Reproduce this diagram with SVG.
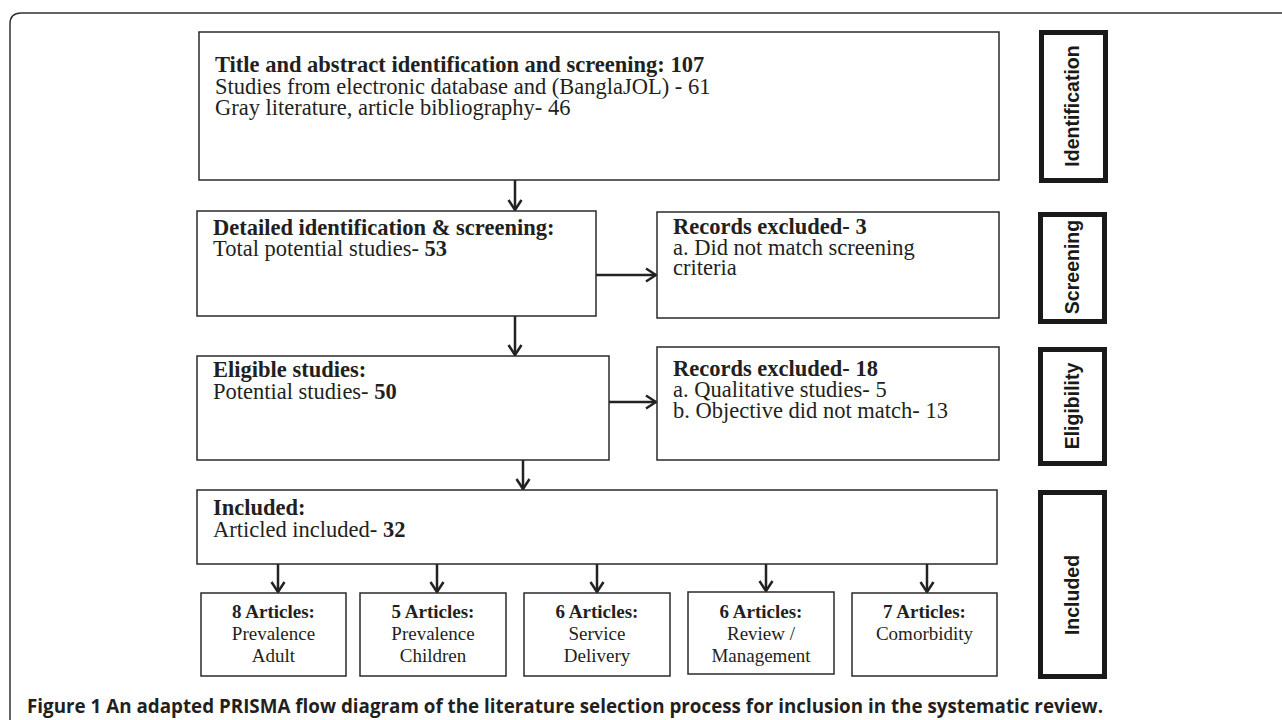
<svg xmlns="http://www.w3.org/2000/svg" width="1282" height="720" viewBox="0 0 1282 720">
<style>
.box{fill:#fff;stroke:#2a2a2a;stroke-width:1.5}
.stage{fill:#fff;stroke:#1a1a1a;stroke-width:5}
.t{font-family:"Liberation Serif","Times New Roman",serif;font-size:22.5px;fill:#231f20}
.s{font-family:"Liberation Serif","Times New Roman",serif;font-size:19px;fill:#231f20;text-anchor:middle}
.b{font-weight:bold}
.lab{font-family:"Liberation Sans",Arial,sans-serif;font-weight:bold;font-size:19.5px;fill:#1a1a1a;text-anchor:middle}
.cap{font-family:"Open Sans","Noto Sans",sans-serif;font-weight:bold;font-size:20px;fill:#231f20}
.con{stroke:#222;stroke-width:2.5;fill:none}
</style>
<defs>
<marker id="arr" viewBox="0 0 12 16" refX="11" refY="8" markerWidth="12" markerHeight="16" markerUnits="userSpaceOnUse" orient="auto">
<path d="M1,1.5 L11,8 L1,14.5" fill="none" stroke="#222" stroke-width="2.5"/>
</marker>
</defs>
<path d="M10,720 L10,24 Q10,13 21,13 L1282,13" fill="none" stroke="#333" stroke-width="1.5"/>

<g id="connectors">
<line class="con" x1="515" y1="180" x2="515" y2="210" marker-end="url(#arr)"/>
<line class="con" x1="515" y1="316" x2="515" y2="355" marker-end="url(#arr)"/>
<line class="con" x1="596" y1="275" x2="656" y2="275" marker-end="url(#arr)"/>
<line class="con" x1="609" y1="402" x2="656" y2="402" marker-end="url(#arr)"/>
<line class="con" x1="523" y1="460" x2="523" y2="489" marker-end="url(#arr)"/>
<line class="con" x1="278" y1="564" x2="278" y2="592" marker-end="url(#arr)"/>
<line class="con" x1="437" y1="564" x2="437" y2="592" marker-end="url(#arr)"/>
<line class="con" x1="597" y1="564" x2="597" y2="592" marker-end="url(#arr)"/>
<line class="con" x1="766" y1="564" x2="766" y2="591" marker-end="url(#arr)"/>
<line class="con" x1="927" y1="564" x2="927" y2="592" marker-end="url(#arr)"/>
</g>

<g id="node-identification">
<rect class="box" x="199" y="32" width="800" height="148"/>
<text class="t b" x="215" y="72">Title and abstract identification and screening: 107</text>
<text class="t" x="215" y="93.5">Studies from electronic database and (BanglaJOL) - 61</text>
<text class="t" x="215" y="115">Gray literature, article bibliography- 46</text>
</g>

<g id="node-detailed">
<rect class="box" x="197" y="211" width="399" height="105"/>
<text class="t b" x="213" y="235">Detailed identification &amp; screening:</text>
<text class="t" x="213" y="256">Total potential studies- <tspan class="b">53</tspan></text>
</g>

<g id="node-excluded3">
<rect class="box" x="657" y="212" width="342" height="106"/>
<text class="t b" x="673" y="234">Records excluded- 3</text>
<text class="t" x="673" y="254.5">a. Did not match screening</text>
<text class="t" x="673" y="275">criteria</text>
</g>

<g id="node-eligible">
<rect class="box" x="197" y="356" width="412" height="104"/>
<text class="t b" x="213" y="377">Eligible studies:</text>
<text class="t" x="213" y="399">Potential studies- <tspan class="b">50</tspan></text>
</g>

<g id="node-excluded18">
<rect class="box" x="657" y="347" width="342" height="113"/>
<text class="t b" x="673" y="376">Records excluded- 18</text>
<text class="t" x="673" y="397">a. Qualitative studies- 5</text>
<text class="t" x="673" y="418">b. Objective did not match- 13</text>
</g>

<g id="node-included">
<rect class="box" x="197" y="490" width="800" height="74"/>
<text class="t b" x="213" y="515">Included:</text>
<text class="t" x="213" y="537">Articled included- <tspan class="b">32</tspan></text>
</g>

<g id="node-adult">
<rect class="box" x="201" y="593" width="145" height="83"/>
<text class="s b" x="273.5" y="618">8 Articles:</text>
<text class="s" x="273.5" y="640">Prevalence</text>
<text class="s" x="273.5" y="662">Adult</text>
</g>
<g id="node-children">
<rect class="box" x="360" y="593" width="146" height="83"/>
<text class="s b" x="433" y="618">5 Articles:</text>
<text class="s" x="433" y="640">Prevalence</text>
<text class="s" x="433" y="662">Children</text>
</g>
<g id="node-service">
<rect class="box" x="524" y="593" width="146" height="83"/>
<text class="s b" x="597" y="618">6 Articles:</text>
<text class="s" x="597" y="640">Service</text>
<text class="s" x="597" y="662">Delivery</text>
</g>
<g id="node-review">
<rect class="box" x="688" y="592" width="146" height="82"/>
<text class="s b" x="761" y="618">6 Articles:</text>
<text class="s" x="761" y="640">Review /</text>
<text class="s" x="761" y="662">Management</text>
</g>
<g id="node-comorbidity">
<rect class="box" x="852" y="593" width="145" height="83"/>
<text class="s b" x="924.5" y="618">7 Articles:</text>
<text class="s" x="924.5" y="640">Comorbidity</text>
</g>

<g id="stage-identification">
<rect class="stage" x="1041.5" y="32.5" width="64" height="148"/>
<text class="lab" transform="translate(1079,106) rotate(-90)">Identification</text>
</g>
<g id="stage-screening">
<rect class="stage" x="1040.5" y="214.5" width="64" height="107"/>
<text class="lab" transform="translate(1079,267) rotate(-90)">Screening</text>
</g>
<g id="stage-eligibility">
<rect class="stage" x="1040.5" y="349.5" width="64" height="114"/>
<text class="lab" transform="translate(1079,406) rotate(-90)">Eligibility</text>
</g>
<g id="stage-included">
<rect class="stage" x="1040.5" y="492.5" width="64" height="184"/>
<text class="lab" transform="translate(1079,595) rotate(-90)">Included</text>
</g>

<text class="cap" x="27" y="713" textLength="1076" lengthAdjust="spacingAndGlyphs">Figure 1 An adapted PRISMA flow diagram of the literature selection process for inclusion in the systematic review.</text>
</svg>
